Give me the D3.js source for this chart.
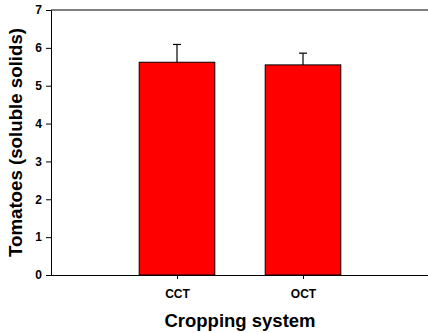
<!DOCTYPE html>
<html><head><meta charset="utf-8">
<script src="https://cdn.jsdelivr.net/npm/d3@7"></script>
<style>body{margin:0;background:#fff}svg{display:block}</style>
</head><body>
<script>
const categories = ["CCT", "OCT"];
const means = [5.62, 5.55];
const errors = [0.47, 0.31];
const yTicks = [0, 1, 2, 3, 4, 5, 6, 7];
const xTitle = "Cropping system";
const yTitle = "Tomatoes (soluble solids)";

const W = 428, H = 333;
const m = {left: 51, top: 10, right: -1, bottom: 58};
const svg = d3.select("body").append("svg").attr("width", W).attr("height", H);
const font = "Arial, 'Liberation Sans', sans-serif";

const x = d3.scaleLinear().domain([0, categories.length + 1]).range([m.left, W - m.right]);
const y = d3.scaleLinear().domain([0, 7]).range([H - m.bottom, m.top]);
const bw = x(0.6) - x(0);

// bars
svg.selectAll("rect.bar").data(categories).join("rect")
  .attr("x", (d, i) => x(i + 1) - bw / 2)
  .attr("y", (d, i) => y(means[i]))
  .attr("width", bw)
  .attr("height", (d, i) => y(0) - y(means[i]))
  .attr("fill", "#ff0000").attr("stroke", "#000").attr("stroke-width", 1);

// error bars
const eg = svg.append("g").attr("stroke", "#000").attr("stroke-width", 1.2);
categories.forEach((c, i) => {
  const cx = x(i + 1);
  eg.append("line").attr("x1", cx).attr("x2", cx).attr("y1", y(means[i])).attr("y2", y(means[i] + errors[i]));
  eg.append("line").attr("x1", cx - 4).attr("x2", cx + 4).attr("y1", y(means[i] + errors[i])).attr("y2", y(means[i] + errors[i]));
});

// top border
svg.append("line").attr("x1", m.left).attr("x2", W).attr("y1", y(7)).attr("y2", y(7))
  .attr("stroke", "#000").attr("stroke-width", 1);

// y axis
const ya = svg.append("g").attr("transform", `translate(${m.left},0)`)
  .call(d3.axisLeft(y).tickValues(yTicks).tickSize(5).tickPadding(4).tickFormat(d3.format("d")));
ya.select(".domain").attr("stroke", "#000");
ya.selectAll("text").attr("font-family", font).attr("font-weight", "bold").attr("font-size", 12).attr("fill", "#000");

// x axis
const xa = svg.append("g").attr("transform", `translate(0,${y(0)})`)
  .call(d3.axisBottom(x).tickValues(categories.map((c, i) => i + 1)).tickSize(4).tickPadding(10)
    .tickFormat((d) => categories[d - 1]));
xa.select(".domain").attr("d", `M${m.left},0.5H${W}`).attr("stroke", "#000");
xa.selectAll("text").attr("font-family", font).attr("font-weight", "bold").attr("font-size", 12).attr("fill", "#000");

// titles
svg.append("text").attr("x", x(1.5)).attr("y", 327).attr("text-anchor", "middle")
  .attr("font-family", font).attr("font-weight", "bold").attr("font-size", 18.5).text(xTitle);
svg.append("text").attr("transform", `translate(22,${(y(0) + y(7)) / 2}) rotate(-90)`).attr("text-anchor", "middle")
  .attr("font-family", font).attr("font-weight", "bold").attr("font-size", 18.7).text(yTitle);
</script>
</body></html>
